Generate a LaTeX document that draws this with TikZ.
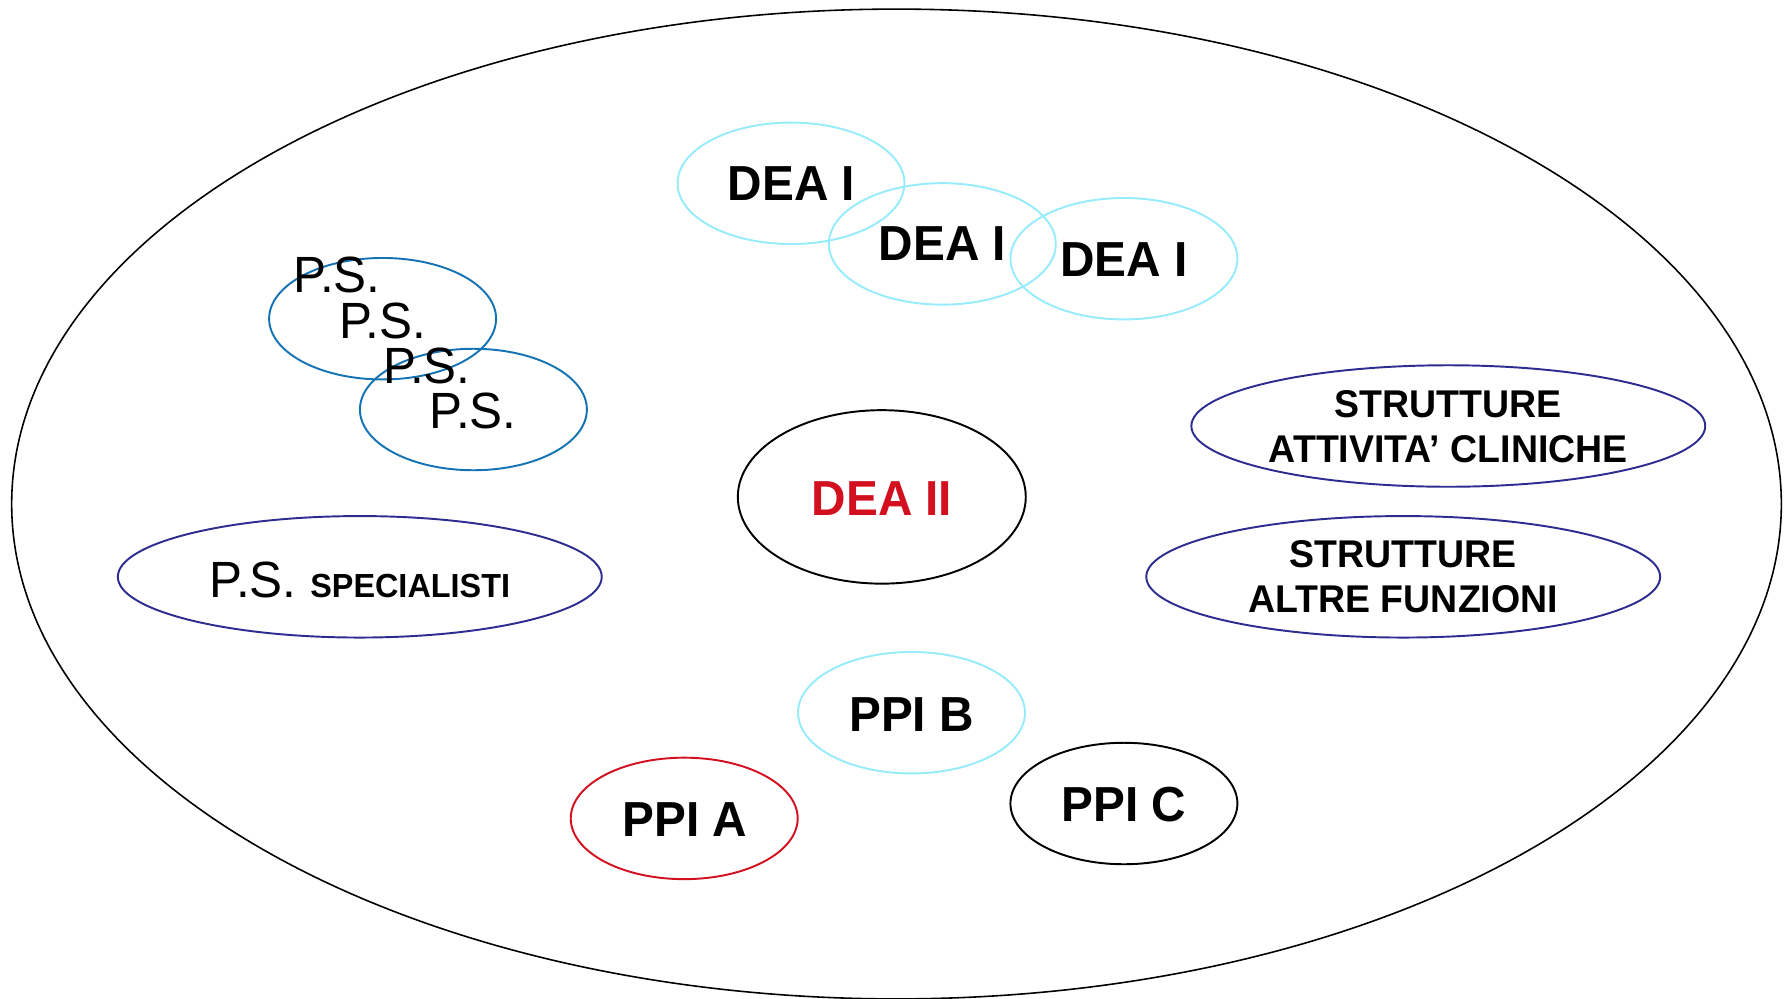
\documentclass[tikz,border=0pt]{standalone}
\usepackage{fontspec}
\setmainfont[FakeStretch=0.97]{Liberation Sans}
\usetikzlibrary{shapes.geometric}
\definecolor{deacyan}{RGB}{150,236,250}
\definecolor{psblue}{RGB}{20,115,180}
\definecolor{strnavy}{RGB}{45,45,145}
\definecolor{ppired}{RGB}{210,16,32}
\tikzset{ring/.style={ellipse,draw,line width=1.1pt,inner sep=0pt,minimum width=4.54cm,minimum height=2.43cm},
  wide/.style={ring,draw=strnavy,minimum width=10.28cm},
  big/.style={font=\fontsize{28}{34}\selectfont\bfseries},
  pstext/.style={font=\fontsize{29}{34}\selectfont},
  strtext/.style={align=center,font=\fontsize{22}{25.6}\selectfont\bfseries}}

\begin{document}
\begin{tikzpicture}[x=0.02cm,y=-0.02cm]
\useasboundingbox (0,0) rectangle (1791,998);
\node (area) [ellipse,draw,line width=0.9pt,inner sep=0pt,minimum width=35.4cm,minimum height=19.8cm] at (896.5,504) {};
% DEA I
\node (deaA) [ring,draw=deacyan] at (791,183.3) {};
\node (deaB) [ring,draw=deacyan] at (942.3,243.9) {};
\node (deaC) [ring,draw=deacyan] at (1123.9,258.7) {};
\node (deaAt) [big] at (791.5,184) {DEA I};
\node (deaBt) [big] at (942.5,244) {DEA I};
\node (deaCt) [big] at (1124,260) {DEA I};
% P.S.
\node (psA) [ring,draw=psblue] at (382.6,318.7) {};
\node (psB) [ring,draw=psblue] at (473.4,409.5) {};
\node (psAt) [pstext] at (337,275) {P.S.};
\node (psBt) [pstext] at (382.6,321) {P.S.};
\node (psCt) [pstext] at (427,366) {P.S.};
\node (psDt) [pstext] at (473,411) {P.S.};
% DEA II
\node (dea2) [ring,draw=black,minimum width=5.76cm,minimum height=3.47cm] at (881.8,496.9) {};
\node (dea2t) [big,text=ppired] at (882,499) {DEA II};
% specialisti e strutture
\node (spec) [wide,minimum width=9.68cm] at (359.8,576.8) {};
\node (spect) [pstext] at (359.8,580) {P.S. {\fontsize{19}{22}\selectfont\bfseries SPECIALISTI}};
\node (strA) [wide] at (1448.3,426) {};
\node (strAt) [strtext] at (1448.3,426.5) {STRUTTURE\\ATTIVITA’ CLINICHE};
\node (strB) [wide] at (1403.2,576.8) {};
\node (strBt) [strtext] at (1403.2,577) {STRUTTURE\\ALTRE FUNZIONI};
% PPI
\node (ppiB) [ring,draw=deacyan] at (911.5,712.7) {};
\node (ppiA) [ring,draw=ppired] at (684.2,818.4) {};
\node (ppiC) [ring,draw=black] at (1123.9,803.5) {};
\node (ppiBt) [big] at (911.5,715) {PPI B};
\node (ppiAt) [big] at (685,820) {PPI A};
\node (ppiCt) [big] at (1124,805) {PPI C};
\end{tikzpicture}
\end{document}
